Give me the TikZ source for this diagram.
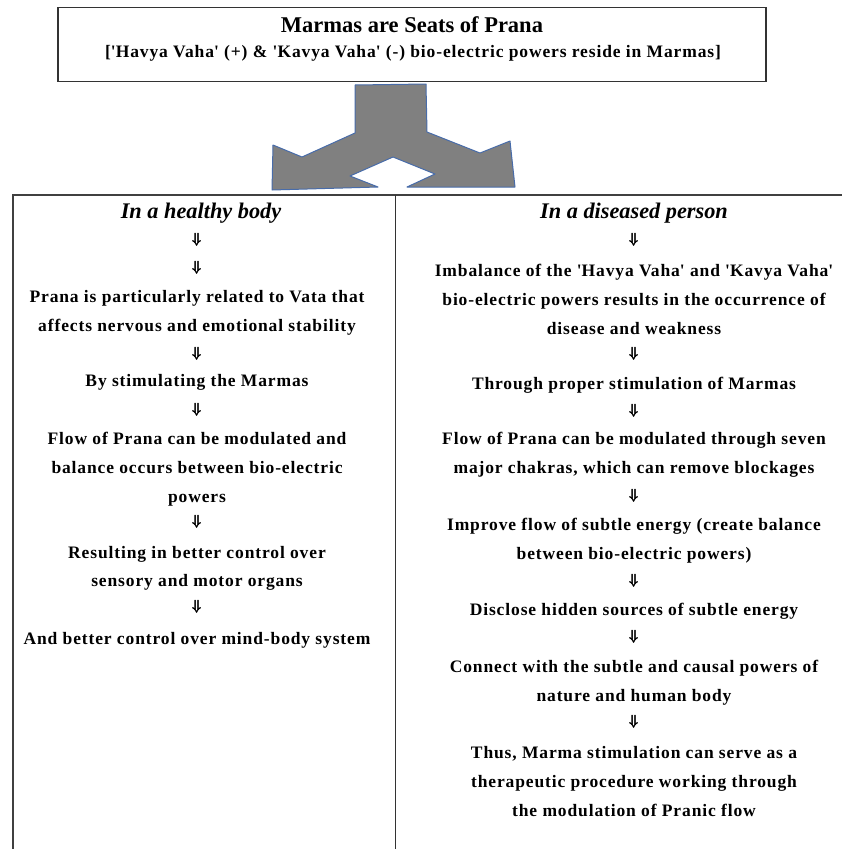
\documentclass[tikz,border=0pt]{standalone}
\usepackage{amsmath}
\usepackage{fontspec}
\setmainfont{Liberation Serif}
\newfontfamily\bodyfont{Liberation Serif}[LetterSpace=5]
\newcommand{\sq}{\textquotesingle}
\newcommand{\dnarrow}{\scalebox{.75}[.85]{\pmb{$\Downarrow$}}}
\definecolor{arrowblue}{RGB}{72,108,170}
\tikzset{
  title/.style={font=\bfseries\fontsize{22.5}{26}\selectfont, inner sep=0pt},
  body/.style={font=\bodyfont\bfseries\fontsize{17.5}{28.7}\selectfont, align=center, inner sep=0pt},
  head/.style={font=\bfseries\itshape\fontsize{22.3}{26}\selectfont, inner sep=0pt},
  dn/.style={font=\boldmath\fontsize{17.28}{18}\selectfont, inner sep=0pt},
  rule/.style={line width=2pt, black!75},
}
\begin{document}
\begin{tikzpicture}[x=1pt,y=-1pt]
    \useasboundingbox (0,0) rectangle (842,849);
    % top box
    \draw[line width=1.5pt, black!80] (58,7.5) rectangle (766,81.5);
    \node[title] (seat) at (412,25) {Marmas are Seats of Prana};
    \node[body] (powers) at (413,53) {[\sq Havya Vaha\sq{} (+) \& \sq Kavya Vaha\sq{} (-) bio-electric powers reside in Marmas]};
    % split arrow
    \filldraw[fill=gray, draw=arrowblue, line width=1pt, line join=round]
        (355,85)--(426,84)--(427,132)--(480,153)--(510,141)--(515,187)--(407,187)
        --(435,174)--(393,157)--(350,176)--(378,187)--(272,190)--(273,145)--(302,157)--(355,133)--cycle;
    % table
    \draw[rule] (12.5,849)--(12.5,194.5)--(842,194.5);
    \draw[line width=1.2pt, black!80] (395.5,194.5)--(395.5,849);
    % healthy body
    \node[head] (healthy) at (201,213) {In a healthy body};
    \foreach \y [count=\i] in {240,268,354,410,522,607}
        \node[dn] (la\i) at (197,\y) {\dnarrow};
    \node[body] (vata) at (197,313) {Prana is particularly related to Vata that\\affects nervous and emotional stability};
    \node[body] (stim) at (197,382) {By stimulating the Marmas};
    \node[body] (flowl) at (197,469) {Flow of Prana can be modulated and\\balance occurs between bio-electric\\powers};
    \node[body] (organs) at (197,568.5) {Resulting in better control over\\sensory and motor organs};
    \node[body] (mind) at (197,640) {And better control over mind-body system};
    % diseased person
    \node[head] (diseased) at (634,213) {In a diseased person};
    \foreach \y [count=\i] in {240,354,411,496,581,637,722}
        \node[dn] (ra\i) at (634,\y) {\dnarrow};
    \node[body] (imbal) at (634,299.5) {Imbalance of the \sq Havya Vaha\sq{} and \sq Kavya Vaha\sq\\bio-electric powers results in the occurrence of\\disease and weakness};
    \node[body] (proper) at (634,385) {Through proper stimulation of Marmas};
    \node[body] (chakra) at (634,455) {Flow of Prana can be modulated through seven\\major chakras, which can remove blockages};
    \node[body] (subtle) at (634,541) {Improve flow of subtle energy (create balance\\between bio-electric powers)};
    \node[body] (hidden) at (634,611) {Disclose hidden sources of subtle energy};
    \node[body] (causal) at (634,682.5) {Connect with the subtle and causal powers of\\nature and human body};
    \node[body] (thus) at (634,781.5) {Thus, Marma stimulation can serve as a\\therapeutic procedure working through\\the modulation of Pranic flow};
\end{tikzpicture}
\end{document}
